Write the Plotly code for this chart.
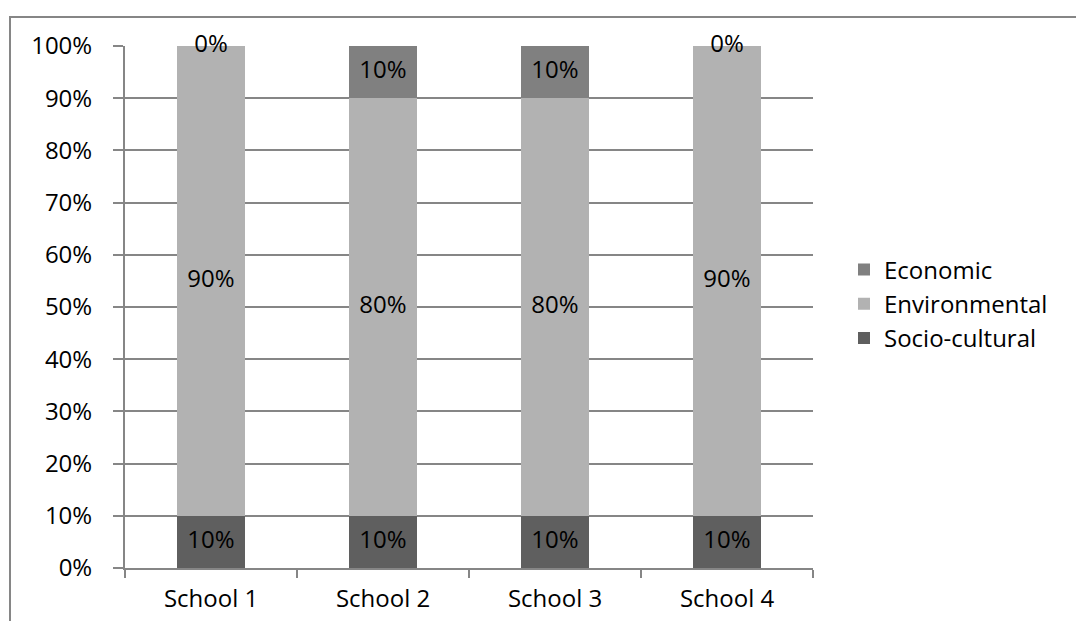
import plotly.graph_objects as go

schools = ["School 1", "School 2", "School 3", "School 4"]
socio_cultural = [10, 10, 10, 10]
environmental = [90, 80, 80, 90]
economic = [0, 10, 10, 0]
y_ticks = [0, 10, 20, 30, 40, 50, 60, 70, 80, 90, 100]
y_tick_text = [f"{v}%" for v in y_ticks]

FONT = "Open Sans"
FS = 24
series = [
    ("Socio-cultural", socio_cultural, "#5f5f5f"),
    ("Environmental", environmental, "#b2b2b2"),
    ("Economic", economic, "#808080"),
]

fig = go.Figure()
for name, vals, col in series:
    fig.add_trace(go.Bar(x=schools, y=vals, name=name, marker_color=col,
                         marker_line_width=0, hoverinfo="skip"))

# data labels at segment centres
lx, ly, lt = [], [], []
base = [0] * len(schools)
for name, vals, col in series:
    for i, v in enumerate(vals):
        lx.append(schools[i])
        ly.append(base[i] + v / 2)
        lt.append(f"{v}%")
        base[i] += v
fig.add_trace(go.Scatter(x=lx, y=ly, text=lt, mode="text", showlegend=False,
                         textposition="middle center", hoverinfo="skip",
                         cliponaxis=False,
                         textfont=dict(family=FONT, size=FS, color="#000000")))

L, R, T, B = 125, 813, 46, 568
W, H = 1076, 621
pw, ph = R - L, B - T

fig.update_layout(
    width=W, height=H,
    margin=dict(l=L, r=W - R, t=T, b=H - B, pad=0, autoexpand=False),
    barmode="stack", bargap=0.6,
    paper_bgcolor="white", plot_bgcolor="white",
    font=dict(family=FONT, size=FS, color="#000000"),
    legend=dict(traceorder="reversed", x=(844 - L) / pw, xanchor="left",
                y=(B - 304) / ph, yanchor="middle",
                font=dict(family=FONT, size=FS, color="#000000"),
                bgcolor="rgba(0,0,0,0)", itemwidth=30),
    showlegend=True,
)
fig.update_yaxes(range=[0, 100], tickvals=y_ticks, ticktext=y_tick_text,
                 showgrid=True, gridcolor="#868686", gridwidth=2,
                 showline=True, linecolor="#868686", linewidth=2,
                 ticks="outside", ticklen=10, tickwidth=2, tickcolor="#868686",
                 ticklabelstandoff=16, zeroline=False, fixedrange=True,
                 automargin=False)
fig.update_xaxes(type="category", showgrid=False, showline=True,
                 linecolor="#868686", linewidth=2,
                 ticks="outside", ticklen=8, tickwidth=2, tickcolor="#868686",
                 tickson="boundaries", ticklabelstandoff=8, fixedrange=True,
                 automargin=False)

# outer chart border
fig.add_shape(type="rect", xref="paper", yref="paper",
              x0=(10 - L) / pw, x1=(1090 - L) / pw,
              y0=(B - 640) / ph, y1=(B - 17) / ph,
              line=dict(color="#868686", width=2), fillcolor="rgba(0,0,0,0)",
              layer="above")

fig.write_html("out.html")
